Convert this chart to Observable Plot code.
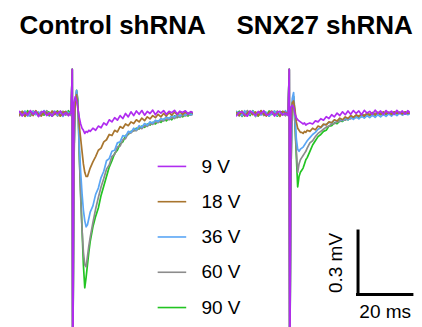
<!DOCTYPE html>
<html><head><meta charset="utf-8">
<script src="https://cdn.jsdelivr.net/npm/d3@7"></script>
<script src="https://cdn.jsdelivr.net/npm/@observablehq/plot@0.6"></script>
<style>body{margin:0;background:#fff}</style>
</head><body><div id="chart"></div>
<script>
const panels = ["Control shRNA", "SNX27 shRNA"];
const voltages = ["9 V", "18 V", "36 V", "60 V", "90 V"];
const colors = ["#b02cf0", "#a8752e", "#5aa6f5", "#8c8c8c", "#22c422"];

// time (ms) from trace start
const timeMs = [0,1,2,3,4,5,6,7,8,9,10,11,12,13,14,15,16,17,18,19,19.4,19.55,19.7,20,20.5,21,21.5,22,22.5,23,23.5,24,24.5,25,25.5,26,27,28,29,30,31,32,33,34,35,36,37,38,39,40,41,42,43,44,45,46,47,48,49,50,51,52,53,54,55,56,57,58,59,60,61,62,63,64];

// membrane potential (mV, baseline 0) — Control shRNA
const control90 = [0.008,0.002,-0.011,0.013,-0.007,-0.003,0.011,-0.012,0.004,-0.008,0.01,0.006,-0.013,0.002,0.012,-0.01,0.004,-0.005,0.013,-0.004,
 0.21,-1.02,-1.02,
 -0.2,0.05,0.11,0.06,-0.2,-0.38,-0.55,-0.72,-0.83,-0.78,-0.72,-0.66,-0.61,
 -0.54,-0.49,-0.45,-0.39,-0.345,-0.30,-0.255,-0.225,-0.19,-0.175,-0.145,-0.135,-0.105,-0.10,-0.085,-0.082,-0.07,-0.074,-0.06,-0.066,-0.05,-0.055,-0.042,-0.05,-0.035,-0.042,-0.028,-0.035,-0.022,-0.03,-0.012,-0.02,-0.008,-0.016,-0.004,-0.012,0.002,-0.006];
const control60 = [-0.011,0.006,0.008,-0.005,-0.013,0.012,0.003,-0.009,0.01,-0.002,0.013,-0.007,-0.004,0.009,-0.012,0.006,0.011,-0.008,0.002,-0.01,
 0.21,-1.02,-1.02,
 -0.25,0.04,0.10,0.05,-0.2,-0.4,-0.55,-0.66,-0.72,-0.73,-0.68,-0.63,-0.59,
 -0.52,-0.455,-0.40,-0.35,-0.31,-0.265,-0.245,-0.205,-0.195,-0.16,-0.155,-0.125,-0.12,-0.095,-0.092,-0.08,-0.082,-0.068,-0.072,-0.058,-0.062,-0.048,-0.052,-0.04,-0.044,-0.032,-0.036,-0.026,-0.03,-0.02,-0.024,-0.014,-0.018,-0.008,-0.012,-0.004,-0.008,0.0];
const control36 = [0.004,-0.009,0.012,-0.013,0.002,0.01,-0.006,0.008,-0.011,0.014,-0.004,-0.012,0.007,0.011,-0.008,0.003,-0.014,0.01,0.005,-0.006,
 0.21,-1.02,-1.02,
 -0.2,0.06,0.11,0.05,-0.15,-0.28,-0.38,-0.46,-0.51,-0.54,-0.53,-0.50,-0.47,
 -0.44,-0.385,-0.355,-0.305,-0.275,-0.225,-0.215,-0.18,-0.175,-0.14,-0.135,-0.105,-0.11,-0.085,-0.09,-0.07,-0.078,-0.058,-0.066,-0.048,-0.056,-0.04,-0.046,-0.032,-0.038,-0.024,-0.03,-0.016,-0.024,-0.01,-0.018,-0.004,-0.012,0.0,-0.008,0.004,-0.006,0.002];
const control18 = [-0.006,0.011,-0.014,0.004,0.009,-0.01,0.013,-0.003,-0.012,0.007,0.002,-0.009,0.012,-0.005,0.01,-0.013,0.006,0.009,-0.007,0.003,
 0.21,-1.02,-1.02,
 -0.1,0.05,0.09,0.03,-0.06,-0.12,-0.18,-0.24,-0.28,-0.30,-0.30,-0.28,-0.26,
 -0.23,-0.205,-0.175,-0.165,-0.135,-0.125,-0.10,-0.105,-0.08,-0.088,-0.062,-0.07,-0.05,-0.058,-0.04,-0.048,-0.03,-0.04,-0.022,-0.034,-0.016,-0.026,-0.01,-0.02,-0.004,-0.016,0.0,-0.012,0.004,-0.008,0.006,-0.006,0.008,-0.004,0.006,-0.002,0.008,0.0];
const control9 = [0.01,-0.012,0.005,-0.008,0.014,-0.004,0.009,-0.015,0.006,0.011,-0.01,0.003,-0.013,0.008,-0.002,0.012,-0.009,0.004,-0.011,0.007,
 0.21,-1.02,-1.02,
 0.05,0.08,0.06,0.02,-0.02,-0.05,-0.07,-0.08,-0.095,-0.085,-0.09,-0.08,-0.085,
 -0.07,-0.08,-0.06,-0.068,-0.045,-0.055,-0.03,-0.04,-0.02,-0.032,-0.01,-0.024,0.0,-0.016,0.008,-0.01,0.012,-0.004,0.014,-0.008,0.01,0.0,0.016,-0.006,0.012,0.002,0.014,-0.004,0.01,0.004,0.015,-0.003,0.011,0.005,0.013,-0.002,0.009,0.003];

// SNX27 shRNA
const snx90 = [-0.006,0.011,-0.014,0.004,0.009,-0.01,0.013,-0.003,-0.012,0.007,0.002,-0.009,0.012,-0.005,0.01,-0.013,0.006,0.009,-0.007,0.003,
 0.21,-1.02,-1.02,
 -0.3,0.05,0.08,-0.05,-0.2,-0.35,-0.30,-0.28,-0.27,-0.26,-0.24,-0.22,-0.21,
 -0.18,-0.15,-0.13,-0.11,-0.10,-0.085,-0.08,-0.06,-0.058,-0.045,-0.048,-0.035,-0.038,-0.025,-0.03,-0.018,-0.024,-0.01,-0.018,-0.006,-0.014,0.0,-0.01,0.004,-0.008,0.002,-0.006,0.006,-0.004,0.004,-0.006,0.008,-0.002,0.005,-0.004,0.006,0.0,0.004];
const snx60 = [0.01,-0.012,0.005,-0.008,0.014,-0.004,0.009,-0.015,0.006,0.011,-0.01,0.003,-0.013,0.008,-0.002,0.012,-0.009,0.004,-0.011,0.007,
 0.21,-1.02,-1.02,
 -0.3,0.05,0.08,-0.05,-0.18,-0.28,-0.24,-0.22,-0.21,-0.20,-0.19,-0.18,-0.165,
 -0.14,-0.13,-0.11,-0.095,-0.085,-0.075,-0.065,-0.06,-0.05,-0.048,-0.04,-0.038,-0.03,-0.032,-0.022,-0.026,-0.016,-0.02,-0.01,-0.016,-0.006,-0.012,-0.002,-0.01,0.002,-0.006,0.004,-0.004,0.006,-0.002,0.004,-0.004,0.006,0.0,0.005,-0.003,0.004,0.0];
const snx36 = [0.008,0.002,-0.011,0.013,-0.007,-0.003,0.011,-0.012,0.004,-0.008,0.01,0.006,-0.013,0.002,0.012,-0.01,0.004,-0.005,0.013,-0.004,
 0.21,-1.02,-1.02,
 -0.25,0.07,0.10,0.0,-0.12,-0.17,-0.18,-0.17,-0.165,-0.16,-0.15,-0.14,-0.13,
 -0.115,-0.10,-0.09,-0.075,-0.068,-0.055,-0.052,-0.042,-0.045,-0.032,-0.038,-0.026,-0.034,-0.022,-0.03,-0.018,-0.028,-0.016,-0.026,-0.012,-0.022,-0.01,-0.02,-0.008,-0.018,-0.006,-0.016,-0.004,-0.014,-0.002,-0.012,0.0,-0.01,0.002,-0.008,0.0,-0.006,0.002];
const snx18 = [0.004,-0.009,0.012,-0.013,0.002,0.01,-0.006,0.008,-0.011,0.014,-0.004,-0.012,0.007,0.011,-0.008,0.003,-0.014,0.01,0.005,-0.006,
 0.21,-1.02,-1.02,
 -0.1,0.05,0.06,0.02,-0.04,-0.07,-0.08,-0.09,-0.09,-0.095,-0.085,-0.09,-0.08,
 -0.085,-0.07,-0.078,-0.06,-0.066,-0.05,-0.054,-0.04,-0.044,-0.03,-0.036,-0.022,-0.03,-0.016,-0.024,-0.01,-0.018,-0.006,-0.014,-0.002,-0.012,0.002,-0.008,0.004,-0.006,0.006,-0.004,0.008,-0.002,0.006,-0.004,0.008,0.0,0.006,-0.002,0.008,0.0,0.004];
const snx9 = [-0.011,0.006,0.008,-0.005,-0.013,0.012,0.003,-0.009,0.01,-0.002,0.013,-0.007,-0.004,0.009,-0.012,0.006,0.011,-0.008,0.002,-0.01,
 0.21,-1.02,-1.02,
 0.03,0.04,0.03,0.0,-0.02,-0.03,-0.035,-0.04,-0.045,-0.05,-0.045,-0.055,-0.05,
 -0.045,-0.05,-0.035,-0.04,-0.025,-0.032,-0.015,-0.024,-0.006,-0.016,0.002,-0.01,0.008,-0.006,0.012,-0.004,0.014,0.0,0.012,-0.006,0.015,0.002,0.01,-0.004,0.016,0.0,0.012,-0.005,0.014,0.002,0.011,-0.004,0.015,0.001,0.012,-0.003,0.013,0.002];

const scaleBarMV = 0.3;
const scaleBarMS = 20;

// draw order: 90 V first, 9 V last (on top)
const traces = [
  [panels[0], "90 V", control90], [panels[0], "60 V", control60], [panels[0], "36 V", control36],
  [panels[0], "18 V", control18], [panels[0], "9 V", control9],
  [panels[1], "90 V", snx90], [panels[1], "60 V", snx60], [panels[1], "36 V", snx36],
  [panels[1], "18 V", snx18], [panels[1], "9 V", snx9]
];
const rows = traces.flatMap(([panel, volt, vals]) =>
  vals.map((v, i) => ({panel, volt, t: timeMs[i], v})).filter(d => d.t !== undefined));

const legendRows = voltages.map((label, i) => ({panel: panels[0], label, y: -0.252 - i * 0.168}));

// scale bar anchored in the SNX27 panel
const sbX = 44.7, sbY = -0.862;
const scaleRows = [{panel: panels[1]}];

const font = "'Liberation Sans', Arial, Helvetica, sans-serif";

const chart = Plot.plot({
  width: 422,
  height: 327,
  marginLeft: 18,
  marginRight: 11,
  marginTop: 0,
  marginBottom: 0,
  style: {fontFamily: font, background: "#fff", color: "#000"},
  fx: {domain: panels, paddingInner: 0.197, paddingOuter: 0, axis: null},
  x: {domain: [0, 64], axis: null},
  y: {domain: [-1.019, 0.538], axis: null},
  color: {domain: voltages, range: colors},
  marks: [
    Plot.line(rows, {fx: "panel", x: "t", y: "v", z: "volt", stroke: "volt", strokeWidth: 1.7, clip: true}),
    Plot.ruleY(legendRows, {fx: "panel", y: "y", x1: 51, x2: 61.5, stroke: "label", strokeWidth: 1.6}),
    Plot.text(legendRows, {fx: "panel", y: "y", x: 66.9, text: "label", textAnchor: "start", fontSize: 19, fill: "#000"}),
    Plot.ruleX(scaleRows, {fx: "panel", x: sbX, y1: sbY, y2: sbY + scaleBarMV, stroke: "#000", strokeWidth: 3, strokeLinecap: "square"}),
    Plot.ruleY(scaleRows, {fx: "panel", y: sbY, x1: sbX, x2: sbX + scaleBarMS, stroke: "#000", strokeWidth: 3, strokeLinecap: "square"}),
    Plot.text(scaleRows, {fx: "panel", x: sbX + scaleBarMS / 2, y: sbY, dy: 17, text: () => `${scaleBarMS} ms`, fontSize: 19, fill: "#000"}),
    Plot.text(scaleRows, {fx: "panel", x: sbX, y: sbY + scaleBarMV / 2, dx: -22, rotate: -90, text: () => `${scaleBarMV} mV`, fontSize: 19, fill: "#000"}),
    Plot.text(panels, {fx: d => d, text: d => d, frameAnchor: "top-left", lineAnchor: "middle", dy: 25, dx: 0, textAnchor: "start", fontSize: 26, fontWeight: "bold", fill: "#000"})
  ]
});
document.getElementById("chart").appendChild(chart);
</script>
</body></html>
